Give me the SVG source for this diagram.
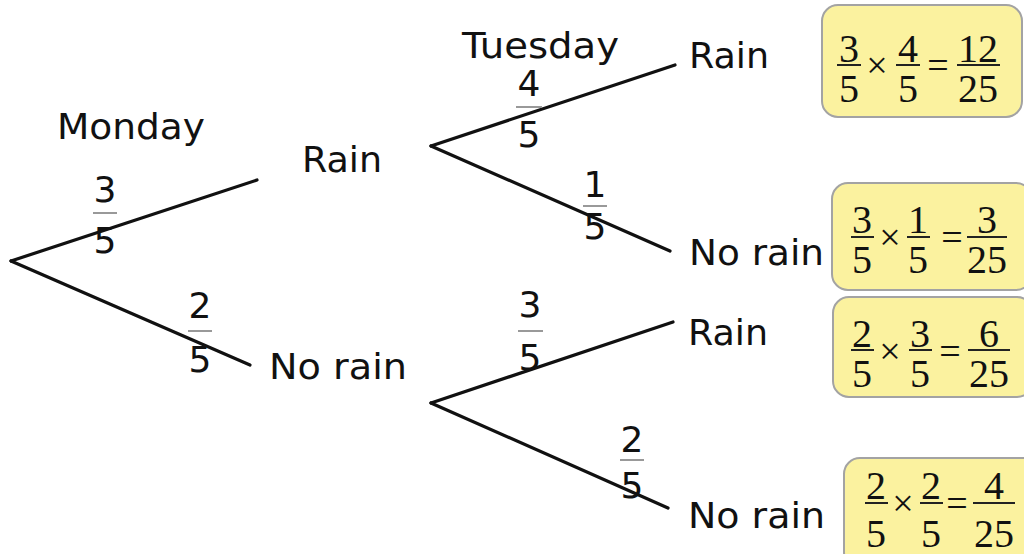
<svg xmlns="http://www.w3.org/2000/svg" width="1024" height="554" viewBox="0 0 1024 554">
<style>
.lbl{font-family:"DejaVu Sans","Verdana",sans-serif;font-size:36px;fill:#111}
.bf{font-family:"DejaVu Sans","Verdana",sans-serif;font-size:36px;fill:#111;text-anchor:middle}
.bbar{stroke:#999;stroke-width:2}
.edge{stroke:#111;stroke-width:3.2;fill:none;stroke-linecap:round}
.box{fill:#fbf29f;stroke:#a3a3a3;stroke-width:2}
.sf{font-family:"Liberation Serif","Times New Roman",serif;font-size:40px;fill:#111;text-anchor:middle}
.op{font-family:"Liberation Serif","Times New Roman",serif;font-size:38px;fill:#111;text-anchor:middle}
.sbar{stroke:#222;stroke-width:2}
</style>
<rect width="1024" height="554" fill="#fff"/>
<g id="connectors">
<line class="edge" x1="11" y1="261" x2="257" y2="180"/>
<line class="edge" x1="11" y1="261" x2="250" y2="365"/>
<line class="edge" x1="431" y1="146" x2="675" y2="65"/>
<line class="edge" x1="431" y1="146" x2="670" y2="251"/>
<line class="edge" x1="431" y1="403" x2="673" y2="322"/>
<line class="edge" x1="431" y1="403" x2="668" y2="508"/>
</g>
<g id="branch-probs">
<g id="p-m-rain"><text class="bf" x="105" y="202">3</text><line class="bbar" x1="93" y1="213" x2="117" y2="213"/><text class="bf" x="105" y="253">5</text></g>
<g id="p-m-norain"><text class="bf" x="200" y="318">2</text><line class="bbar" x1="188" y1="331" x2="212" y2="331"/><text class="bf" x="200" y="372">5</text></g>
<g id="p-t1-rain"><text class="bf" x="529" y="96">4</text><line class="bbar" x1="516" y1="107" x2="542" y2="107"/><text class="bf" x="529" y="147">5</text></g>
<g id="p-t1-norain"><text class="bf" x="595" y="197">1</text><line class="bbar" x1="583" y1="206" x2="607" y2="206"/><text class="bf" x="595" y="239">5</text></g>
<g id="p-t2-rain"><text class="bf" x="530" y="317">3</text><line class="bbar" x1="518" y1="331" x2="543" y2="331"/><text class="bf" x="530" y="370">5</text></g>
<g id="p-t2-norain"><text class="bf" x="632" y="452">2</text><line class="bbar" x1="620" y1="460" x2="644" y2="460"/><text class="bf" x="632" y="498">5</text></g>
</g>
<g id="headers">
<text class="lbl" x="57" y="139" textLength="148" lengthAdjust="spacingAndGlyphs">Monday</text>
<text class="lbl" x="462" y="58" textLength="157" lengthAdjust="spacingAndGlyphs">Tuesday</text>
</g>
<g id="node-rain"><text class="lbl" x="302" y="172" textLength="80" lengthAdjust="spacingAndGlyphs">Rain</text></g>
<g id="node-norain"><text class="lbl" x="269" y="379" textLength="138" lengthAdjust="spacingAndGlyphs">No rain</text></g>
<g id="node-rain-rain"><text class="lbl" x="689" y="68" textLength="80" lengthAdjust="spacingAndGlyphs">Rain</text></g>
<g id="node-rain-norain"><text class="lbl" x="689" y="265" textLength="135" lengthAdjust="spacingAndGlyphs">No rain</text></g>
<g id="node-norain-rain"><text class="lbl" x="688" y="345" textLength="80" lengthAdjust="spacingAndGlyphs">Rain</text></g>
<g id="node-norain-norain"><text class="lbl" x="688" y="528" textLength="137" lengthAdjust="spacingAndGlyphs">No rain</text></g>
<g id="result-1">
<rect class="box" x="822" y="5" width="200" height="112" rx="16"/>
<text class="sf" x="849" y="62">3</text><line class="sbar" x1="837" y1="65" x2="861" y2="65"/><text class="sf" x="849" y="102">5</text>
<text class="op" x="877" y="78">×</text>
<text class="sf" x="908" y="62">4</text><line class="sbar" x1="896" y1="65" x2="920" y2="65"/><text class="sf" x="908" y="102">5</text>
<text class="op" x="938" y="78">=</text>
<text class="sf" x="978" y="62">12</text><line class="sbar" x1="957" y1="65" x2="1000" y2="65"/><text class="sf" x="978" y="102">25</text>
</g>
<g id="result-2">
<rect class="box" x="832" y="183" width="200" height="107" rx="16"/>
<text class="sf" x="862" y="233">3</text><line class="sbar" x1="851" y1="237" x2="874" y2="237"/><text class="sf" x="862" y="273">5</text>
<text class="op" x="890" y="250">×</text>
<text class="sf" x="918" y="233">1</text><line class="sbar" x1="907" y1="237" x2="930" y2="237"/><text class="sf" x="918" y="273">5</text>
<text class="op" x="952" y="250">=</text>
<text class="sf" x="987" y="233">3</text><line class="sbar" x1="967" y1="237" x2="1007" y2="237"/><text class="sf" x="987" y="273">25</text>
</g>
<g id="result-3">
<rect class="box" x="833" y="297" width="200" height="100" rx="16"/>
<text class="sf" x="862" y="347">2</text><line class="sbar" x1="851" y1="350" x2="874" y2="350"/><text class="sf" x="862" y="387">5</text>
<text class="op" x="890" y="364">×</text>
<text class="sf" x="920" y="347">3</text><line class="sbar" x1="909" y1="350" x2="932" y2="350"/><text class="sf" x="920" y="387">5</text>
<text class="op" x="950" y="364">=</text>
<text class="sf" x="989" y="347">6</text><line class="sbar" x1="968" y1="350" x2="1010" y2="350"/><text class="sf" x="989" y="387">25</text>
</g>
<g id="result-4">
<rect class="box" x="844" y="458" width="200" height="110" rx="16"/>
<text class="sf" x="876" y="499">2</text><line class="sbar" x1="865" y1="503" x2="888" y2="503"/><text class="sf" x="876" y="547">5</text>
<text class="op" x="903" y="516">×</text>
<text class="sf" x="931" y="499">2</text><line class="sbar" x1="920" y1="503" x2="943" y2="503"/><text class="sf" x="931" y="547">5</text>
<text class="op" x="957" y="516">=</text>
<text class="sf" x="994" y="499">4</text><line class="sbar" x1="973" y1="503" x2="1015" y2="503"/><text class="sf" x="994" y="547">25</text>
</g>
</svg>
